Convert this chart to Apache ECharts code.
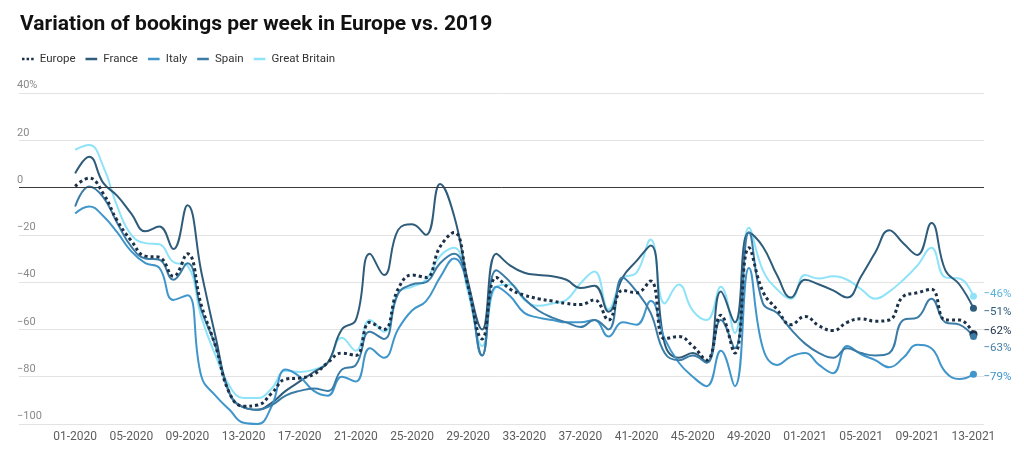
<!DOCTYPE html>
<html>
<head>
<meta charset="utf-8">
<script src="https://cdn.jsdelivr.net/npm/echarts@6/dist/echarts.min.js"></script>
<style>
html,body{margin:0;padding:0;background:#fff;}
#chart{width:1024px;height:449px;}
</style>
</head>
<body>
<div id="chart"></div>
<script>
// x tick labels (every 4th week, week index 0 = 01-2020, 64 = 13-2021)
const tickLabels = ['01-2020','05-2020','09-2020','13-2020','17-2020','21-2020','25-2020','29-2020','33-2020','37-2020','41-2020','45-2020','49-2020','01-2021','05-2021','09-2021','13-2021'];
const yTicks = [-100, -80, -60, -40, -20, 0, 20, 40];

const europe = [0.5,4,-2.5,-14,-22.5,-29,-29.5,-37.5,-28,-50,-67,-87,-92.5,-92,-87,-81,-80.5,-79,-74,-70,-71,-57,-60,-43,-37,-38,-25,-19,-42,-64,-38,-43,-45.5,-47,-48,-49,-49.5,-47.5,-56,-43.5,-44.5,-39.5,-64,-63,-67,-73,-54,-70,-25.5,-44,-51.5,-58,-54.5,-58.5,-60.5,-57,-55.5,-56.5,-56,-46,-44.5,-43,-56,-56,-62];
const france = [6,13,2,-3.5,-11,-18.5,-16.5,-26,-7.5,-36,-63,-87,-93,-94,-91,-86,-82,-78,-74,-60,-56,-28,-37,-18,-15.5,-20,1.5,-12,-40,-60,-28,-33,-36,-37,-37.5,-39,-42.5,-41.5,-52.5,-38,-31,-24.5,-66,-72,-70,-74,-44,-57,-19,-25,-37,-46.5,-39,-41,-43.5,-46.5,-37.5,-27.5,-18,-23.5,-28.5,-15,-35,-41,-51];
const italy = [-11,-8,-12,-19,-27,-32,-34,-47.5,-45.5,-80,-88,-94,-99.5,-100,-92.5,-77,-80,-86,-88,-80,-82,-68,-72,-60,-52,-48,-38,-30,-42,-71,-42,-46,-53,-55,-56,-57,-57,-56,-63,-57,-58,-48,-64,-74,-80,-84,-69,-84,-34,-68,-75,-71.5,-70,-75,-78.5,-67,-70.5,-73,-76,-72,-66.5,-68,-78,-81,-79];
const spain = [-8,0.5,-4,-15,-25,-30,-30.5,-39,-32,-52,-67,-87,-93,-94,-92,-88,-86,-85,-86,-77,-75,-61,-64,-45,-41,-40,-32,-28,-42,-71,-35,-40,-47,-52,-55,-57,-59,-56,-60,-38,-44,-53,-70,-73,-71,-74,-56,-68,-19,-49,-53,-60,-66,-70,-72,-68,-70,-71,-70,-56,-55,-47,-57,-58,-63];
const britain = [16,18,9,-8,-20,-23.5,-24,-31.5,-33,-55,-71,-84,-89,-89,-85,-77.5,-78,-77,-74,-63.5,-69,-56,-61,-44.5,-42,-39,-29,-25.5,-44.5,-67,-42,-41,-47.5,-50,-49,-47.5,-40.5,-35.5,-51.5,-38.5,-36,-22,-49,-41,-52,-56,-42,-61.5,-17,-35,-43,-47,-37,-38.5,-37.5,-39,-43,-47,-44,-39,-33,-25.5,-38,-38.5,-46];

const seriesDefs = [
  {name:'Europe', data:europe, color:'#1b3148', label:'#1b3148', dy:-3, dotted:true, z:5},
  {name:'France', data:france, color:'#2e5c7a', label:'#2e5c7a', dy:4, z:3},
  {name:'Italy', data:italy, color:'#4096cb', label:'#3b93c9', dy:3, z:3},
  {name:'Spain', data:spain, color:'#3b7ca6', label:'#457ea7', dy:12, z:3},
  {name:'Great Britain', data:britain, color:'#8ee3f8', label:'#5ab3da', dy:-2, z:2}
];

const FONT = 'Roboto, "Noto Sans", sans-serif';
const minus = s => String(s).replace('-', '\u2212');

const series = seriesDefs.map((d, k) => {
  const pts = d.data.map((v, i) => [i, v]);
  const last = pts[pts.length - 1];
  const s = {
    name: d.name,
    type: 'line',
    data: pts,
    smooth: 0.45,
    symbol: 'none',
    z: d.z,
    lineStyle: d.dotted ? {color: d.color, width: 3, type: [3, 3]} : {color: d.color, width: 2},
    itemStyle: {color: d.color},
    endLabel: {
      show: true,
      formatter: p => minus(Math.round(p.value[1])) + '%',
      color: d.label,
      fontFamily: FONT,
      fontSize: 11.5,
      distance: 10,
      offset: [0, d.dy]
    },
    markPoint: {
      silent: true,
      symbol: 'circle',
      symbolSize: d.dotted ? 8 : 7,
      label: {show: false},
      itemStyle: {color: d.color},
      data: [{coord: last}]
    }
  };
  if (k === 1) {
    s.markLine = {
      silent: true,
      symbol: 'none',
      label: {show: false},
      lineStyle: {color: '#3a3a3a', width: 1, type: 'solid'},
      data: [{yAxis: 0}]
    };
  }
  return s;
});

const legendIcons = {
  dots: 'path://M0,0h3v3h-3zM5.5,0h3v3h-3zM11,0h3v3h-3z',
  line: 'path://M0,0h14v3h-14z'
};

const chart = echarts.init(document.getElementById('chart'), null, {renderer: 'canvas'});
chart.setOption({
  animation: false,
  backgroundColor: '#ffffff',
  title: {
    text: 'Variation of bookings per week in Europe vs. 2019',
    left: 15,
    top: 9,
    textStyle: {fontFamily: FONT, fontSize: 21, fontWeight: 'bold', color: '#111'}
  },
  legend: {
    left: 17,
    top: 48,
    itemWidth: 14,
    itemHeight: 2.5,
    itemGap: 10,
    textStyle: {fontFamily: FONT, fontSize: 11.5, color: '#333'},
    data: seriesDefs.map(d => ({name: d.name, icon: d.dotted ? legendIcons.dots : legendIcons.line}))
  },
  grid: {left: 19, right: 40, top: 93, bottom: 25, containLabel: false},
  xAxis: {
    type: 'value',
    min: -4,
    max: 64.75,
    interval: 4,
    axisLine: {show: false},
    axisTick: {show: false},
    splitLine: {show: false},
    axisLabel: {
      margin: 7,
      color: '#5e5e5e',
      fontFamily: FONT,
      fontSize: 12,
      formatter: v => (v >= 0 && v % 4 === 0 && v / 4 < tickLabels.length) ? tickLabels[v / 4] : ''
    }
  },
  yAxis: {
    type: 'value',
    min: yTicks[0],
    max: yTicks[yTicks.length - 1],
    interval: 20,
    axisLine: {show: false},
    axisTick: {show: false},
    splitLine: {lineStyle: {color: '#e3e3e3', width: 1}},
    axisLabel: {
      inside: true,
      margin: -2,
      verticalAlign: 'bottom',
      padding: [0, 0, 2, 0],
      color: '#8a8a8a',
      fontFamily: FONT,
      fontSize: 11,
      formatter: v => v === yTicks[yTicks.length - 1] ? v + '%' : minus(v)
    }
  },
  series: series
});
</script>
</body>
</html>
